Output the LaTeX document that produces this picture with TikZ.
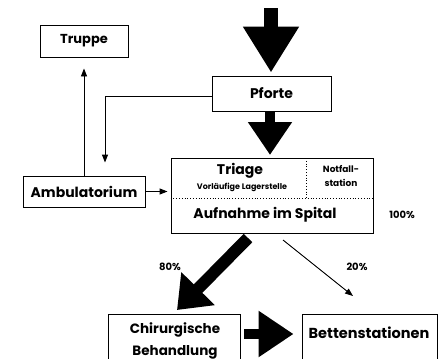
\documentclass[tikz,border=0pt]{standalone}
\usepackage{fontspec}
\setmainfont{Poppins}
\usetikzlibrary{arrows.meta,calc}
\begin{document}
\begin{tikzpicture}[x=1pt,y=-1pt,
  box/.style={draw, line width=0.9pt, inner sep=0pt, align=center},
  fs/.style={font=\bfseries\fontsize{#1}{#1}\selectfont},
  thin/.style={line width=0.9pt, -{Triangle[width=6pt,length=8pt]}},
  lbl/.style={font=\bfseries\fontsize{10}{10}\selectfont, inner sep=0pt}
]
\useasboundingbox (0,0) rectangle (445,359);
\clip (0,0) rectangle (445,359);
% boxes
\node[box, fs=13, minimum width=88pt, minimum height=32pt] (truppe) at (84,41) {Truppe};
\node[box, fs=14, minimum width=119pt, minimum height=35pt] (pforte) at (271.5,93.5) {Pforte};
\node[box, fs=14, minimum width=122pt, minimum height=31pt] (amb) at (84,191.5) {Ambulatorium};
\node[box, minimum width=202pt, minimum height=75pt] (main) at (272,195.5) {};
\node[box, minimum width=132pt, minimum height=64pt, anchor=north] (chir) at (174,314) {};
\node[box, minimum width=135pt, minimum height=64pt, anchor=north] (betten) at (369.5,314) {};
% texts inside
\node[inner sep=0pt, fs=14] (triage) at (240,171) {Triage};
\node[inner sep=0pt, fs=8] (vorl) at (242,187) {Vorläufige Lagerstelle};
\node[inner sep=0pt, align=center, font=\bfseries\fontsize{9}{13.5}\selectfont] (notf) at (341,176) {Notfall-\\station};
\node[inner sep=0pt, fs=14] (aufn) at (265,215) {Aufnahme im Spital};
\node[inner sep=0pt, align=center, font=\bfseries\fontsize{13.5}{22}\selectfont] (chirt) at (175,341) {Chirurgische\\Behandlung};
\node[inner sep=0pt, fs=14.5] (bettt) at (369,333) {Bettenstationen};
\draw[line width=0.8pt, dotted] (main.west |- 0,198) -- (main.east |- 0,198);
\draw[line width=0.8pt, dotted] (306,158) -- (306,198);
% labels
\node[lbl] (p100) at (402,215) {100\%};
\node[lbl] (p80) at (170,267) {80\%};
\node[lbl] (p20) at (357,267) {20\%};
% big arrows
\coordinate (topstart) at (271,8);
\draw[line width=14pt, -{Triangle[width=53pt,length=46pt]}, shorten >=3pt] (topstart) -- (pforte.north -| topstart);
\draw[line width=10pt, -{Triangle[width=42pt,length=33pt]}, shorten >=3pt] (270,111) -- (270,158);
\coordinate (s80) at (248,238);
\coordinate (t80) at (177,310);
\draw[line width=12pt, -{Triangle[width=45pt,length=30pt]}] (s80) -- (t80);
\draw[line width=10pt, -{Triangle[width=44pt,length=35pt]}, shorten <=4pt, shorten >=8pt] (chir.east |- 0,334) -- (betten.west |- 0,334);
% thin arrows
\coordinate (s20) at (283,240);
\coordinate (t20) at (353,296);
\draw[thin] (s20) -- (t20);
\draw[thin, shorten >=11pt] (amb.north) -- (truppe.south);
\coordinate (bend) at (105,96);
\draw[thin, shorten >=13pt] (pforte.west |- bend) -- (bend) -- (bend |- amb.north);
\draw[thin, shorten >=3pt] (amb.east) -- (main.west |- amb.east);
\end{tikzpicture}
\end{document}
